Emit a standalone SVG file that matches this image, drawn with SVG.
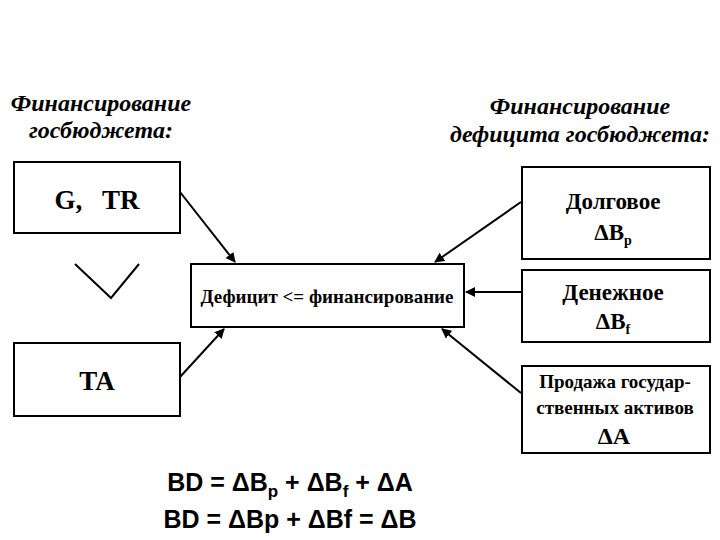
<svg xmlns="http://www.w3.org/2000/svg" width="720" height="540" viewBox="0 0 720 540">
<style>
.b{fill:#fff;stroke:#000;stroke-width:2}
.t{font-family:"Liberation Serif","DejaVu Serif",serif;font-weight:bold;text-anchor:middle;fill:#000}
.h{font-family:"Liberation Serif","DejaVu Serif",serif;font-weight:bold;font-style:italic;font-size:24px;text-anchor:middle}
.f{font-family:"Liberation Sans",sans-serif;font-weight:bold;font-size:25px;text-anchor:middle}
.c{stroke:#000;stroke-width:2;fill:none;marker-end:url(#a)}
</style>
<defs><marker id="a" viewBox="0 0 10 10" refX="9" refY="5" markerWidth="5" markerHeight="5" orient="auto"><path d="M0,0L10,5L0,10z"/></marker></defs>
<rect width="720" height="540" fill="#fff"/>
<text class="h" x="101" y="111">Финансирование</text>
<text class="h" x="101" y="138">госбюджета:</text>
<text class="h" x="580" y="114">Финансирование</text>
<text class="h" x="580" y="142">дефицита госбюджета:</text>
<g id="gtr"><rect class="b" x="14" y="162" width="166" height="71"/><text class="t" x="97" y="209" font-size="27" xml:space="preserve">G,   TR</text></g>
<g id="ta"><rect class="b" x="14" y="343" width="166" height="73"/><text class="t" x="97" y="390" font-size="27">TA</text></g>
<g id="v"><path d="M75,264L111,298L139,264" fill="none" stroke="#000" stroke-width="2"/></g>
<g id="center"><rect class="b" x="191" y="264" width="273" height="63"/><text class="t" x="327" y="303" font-size="19">Дефицит &lt;= финансирование</text></g>
<g id="dolg"><rect class="b" x="522" y="167" width="188" height="92"/><text class="t" x="613" y="209" font-size="23">Долговое</text><text class="t" x="613" y="240" font-size="23">ΔB<tspan font-size="14" dy="5">p</tspan></text></g>
<g id="den"><rect class="b" x="522" y="270" width="188" height="72"/><text class="t" x="613" y="300" font-size="23">Денежное</text><text class="t" x="613" y="329" font-size="23">ΔB<tspan font-size="14" dy="5">f</tspan></text></g>
<g id="prod"><rect class="b" x="522" y="366" width="188" height="87"/><text class="t" x="615" y="388" font-size="19">Продажа государ-</text><text class="t" x="615" y="414" font-size="19">ственных активов</text><text class="t" x="614" y="444" font-size="24">ΔA</text></g>
<g id="connectors">
<line class="c" x1="180" y1="192" x2="235" y2="262"/>
<line class="c" x1="180" y1="377" x2="224" y2="329"/>
<line class="c" x1="521" y1="202" x2="435" y2="262"/>
<line class="c" x1="522" y1="292" x2="466" y2="292" stroke-width="3"/>
<line class="c" x1="521" y1="393" x2="442" y2="329"/>
</g>
<text class="f" x="290" y="491">BD = ΔB<tspan font-size="17" dy="6">p</tspan><tspan dy="-6"> + ΔB</tspan><tspan font-size="17" dy="6">f</tspan><tspan dy="-6"> + ΔA</tspan></text>
<text class="f" x="290" y="528">BD = ΔBp + ΔBf = ΔB</text>
</svg>
